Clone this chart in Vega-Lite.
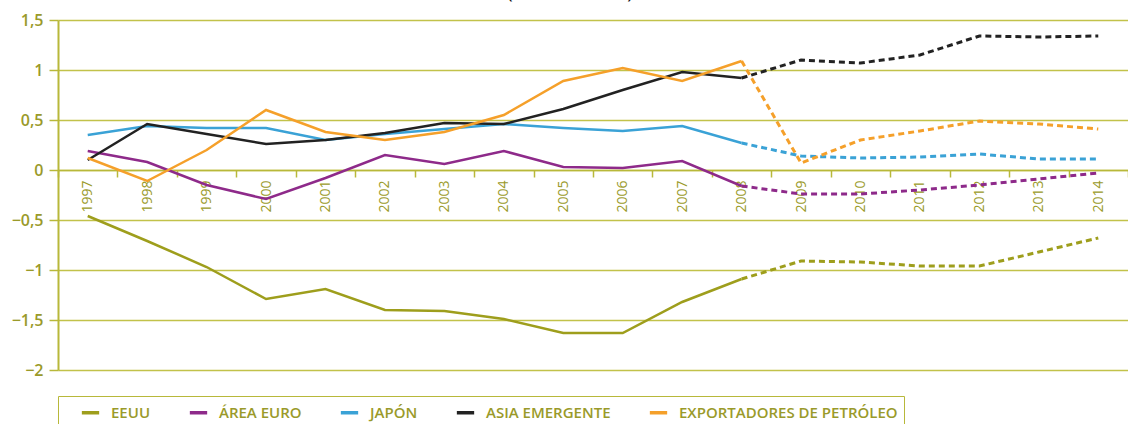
{
  "$schema": "https://vega.github.io/schema/vega-lite/v6.json",
  "width": 1070,
  "height": 350,
  "autosize": {"type": "none"},
  "padding": {"left": 58, "top": 20, "right": 0, "bottom": 54},
  "background": "white",
  "title": {"text": "(en % del PIB)", "fontSize": 20, "font": "Open Sans", "fontWeight": "normal", "color": "#111111", "anchor": "middle", "frame": "group", "baseline": "bottom", "dx": -23, "dy": 10, "offset": 0},
  "datasets": {
    "saldo": [
      {"year": 1997, "serie": "EEUU", "value": -0.46}, {"year": 1998, "serie": "EEUU", "value": -0.71}, {"year": 1999, "serie": "EEUU", "value": -0.97}, {"year": 2000, "serie": "EEUU", "value": -1.29}, {"year": 2001, "serie": "EEUU", "value": -1.19}, {"year": 2002, "serie": "EEUU", "value": -1.40}, {"year": 2003, "serie": "EEUU", "value": -1.41}, {"year": 2004, "serie": "EEUU", "value": -1.49}, {"year": 2005, "serie": "EEUU", "value": -1.63}, {"year": 2006, "serie": "EEUU", "value": -1.63}, {"year": 2007, "serie": "EEUU", "value": -1.32}, {"year": 2008, "serie": "EEUU", "value": -1.09}, {"year": 2009, "serie": "EEUU", "value": -0.91}, {"year": 2010, "serie": "EEUU", "value": -0.92}, {"year": 2011, "serie": "EEUU", "value": -0.96}, {"year": 2012, "serie": "EEUU", "value": -0.96}, {"year": 2013, "serie": "EEUU", "value": -0.82}, {"year": 2014, "serie": "EEUU", "value": -0.68},
      {"year": 1997, "serie": "ÁREA EURO", "value": 0.19}, {"year": 1998, "serie": "ÁREA EURO", "value": 0.08}, {"year": 1999, "serie": "ÁREA EURO", "value": -0.15}, {"year": 2000, "serie": "ÁREA EURO", "value": -0.29}, {"year": 2001, "serie": "ÁREA EURO", "value": -0.08}, {"year": 2002, "serie": "ÁREA EURO", "value": 0.15}, {"year": 2003, "serie": "ÁREA EURO", "value": 0.06}, {"year": 2004, "serie": "ÁREA EURO", "value": 0.19}, {"year": 2005, "serie": "ÁREA EURO", "value": 0.03}, {"year": 2006, "serie": "ÁREA EURO", "value": 0.02}, {"year": 2007, "serie": "ÁREA EURO", "value": 0.09}, {"year": 2008, "serie": "ÁREA EURO", "value": -0.16}, {"year": 2009, "serie": "ÁREA EURO", "value": -0.24}, {"year": 2010, "serie": "ÁREA EURO", "value": -0.24}, {"year": 2011, "serie": "ÁREA EURO", "value": -0.20}, {"year": 2012, "serie": "ÁREA EURO", "value": -0.15}, {"year": 2013, "serie": "ÁREA EURO", "value": -0.09}, {"year": 2014, "serie": "ÁREA EURO", "value": -0.03},
      {"year": 1997, "serie": "JAPÓN", "value": 0.35}, {"year": 1998, "serie": "JAPÓN", "value": 0.44}, {"year": 1999, "serie": "JAPÓN", "value": 0.42}, {"year": 2000, "serie": "JAPÓN", "value": 0.42}, {"year": 2001, "serie": "JAPÓN", "value": 0.30}, {"year": 2002, "serie": "JAPÓN", "value": 0.36}, {"year": 2003, "serie": "JAPÓN", "value": 0.41}, {"year": 2004, "serie": "JAPÓN", "value": 0.46}, {"year": 2005, "serie": "JAPÓN", "value": 0.42}, {"year": 2006, "serie": "JAPÓN", "value": 0.39}, {"year": 2007, "serie": "JAPÓN", "value": 0.44}, {"year": 2008, "serie": "JAPÓN", "value": 0.27}, {"year": 2009, "serie": "JAPÓN", "value": 0.14}, {"year": 2010, "serie": "JAPÓN", "value": 0.12}, {"year": 2011, "serie": "JAPÓN", "value": 0.13}, {"year": 2012, "serie": "JAPÓN", "value": 0.16}, {"year": 2013, "serie": "JAPÓN", "value": 0.11}, {"year": 2014, "serie": "JAPÓN", "value": 0.11},
      {"year": 1997, "serie": "ASIA EMERGENTE", "value": 0.10}, {"year": 1998, "serie": "ASIA EMERGENTE", "value": 0.46}, {"year": 1999, "serie": "ASIA EMERGENTE", "value": 0.36}, {"year": 2000, "serie": "ASIA EMERGENTE", "value": 0.26}, {"year": 2001, "serie": "ASIA EMERGENTE", "value": 0.30}, {"year": 2002, "serie": "ASIA EMERGENTE", "value": 0.37}, {"year": 2003, "serie": "ASIA EMERGENTE", "value": 0.47}, {"year": 2004, "serie": "ASIA EMERGENTE", "value": 0.46}, {"year": 2005, "serie": "ASIA EMERGENTE", "value": 0.61}, {"year": 2006, "serie": "ASIA EMERGENTE", "value": 0.80}, {"year": 2007, "serie": "ASIA EMERGENTE", "value": 0.98}, {"year": 2008, "serie": "ASIA EMERGENTE", "value": 0.92}, {"year": 2009, "serie": "ASIA EMERGENTE", "value": 1.10}, {"year": 2010, "serie": "ASIA EMERGENTE", "value": 1.07}, {"year": 2011, "serie": "ASIA EMERGENTE", "value": 1.15}, {"year": 2012, "serie": "ASIA EMERGENTE", "value": 1.34}, {"year": 2013, "serie": "ASIA EMERGENTE", "value": 1.33}, {"year": 2014, "serie": "ASIA EMERGENTE", "value": 1.34},
      {"year": 1997, "serie": "EXPORTADORES DE PETRÓLEO", "value": 0.12}, {"year": 1998, "serie": "EXPORTADORES DE PETRÓLEO", "value": -0.11}, {"year": 1999, "serie": "EXPORTADORES DE PETRÓLEO", "value": 0.20}, {"year": 2000, "serie": "EXPORTADORES DE PETRÓLEO", "value": 0.60}, {"year": 2001, "serie": "EXPORTADORES DE PETRÓLEO", "value": 0.38}, {"year": 2002, "serie": "EXPORTADORES DE PETRÓLEO", "value": 0.30}, {"year": 2003, "serie": "EXPORTADORES DE PETRÓLEO", "value": 0.38}, {"year": 2004, "serie": "EXPORTADORES DE PETRÓLEO", "value": 0.55}, {"year": 2005, "serie": "EXPORTADORES DE PETRÓLEO", "value": 0.89}, {"year": 2006, "serie": "EXPORTADORES DE PETRÓLEO", "value": 1.02}, {"year": 2007, "serie": "EXPORTADORES DE PETRÓLEO", "value": 0.89}, {"year": 2008, "serie": "EXPORTADORES DE PETRÓLEO", "value": 1.09}, {"year": 2009, "serie": "EXPORTADORES DE PETRÓLEO", "value": 0.07}, {"year": 2010, "serie": "EXPORTADORES DE PETRÓLEO", "value": 0.30}, {"year": 2011, "serie": "EXPORTADORES DE PETRÓLEO", "value": 0.39}, {"year": 2012, "serie": "EXPORTADORES DE PETRÓLEO", "value": 0.49}, {"year": 2013, "serie": "EXPORTADORES DE PETRÓLEO", "value": 0.46}, {"year": 2014, "serie": "EXPORTADORES DE PETRÓLEO", "value": 0.41}
    ]
  },
  "data": {"name": "saldo"},
  "config": {
    "view": {"stroke": null},
    "font": "Open Sans"
  },
  "encoding": {
    "x": {
      "field": "year", "type": "ordinal", "bandPosition": 0.5,
      "scale": {"type": "band", "paddingInner": 0, "paddingOuter": 0},
      "axis": {
        "title": null, "orient": "bottom", "offset": -200, "tickBand": "extent",
        "domain": true, "domainColor": "#b8b83a", "domainWidth": 1.5,
        "ticks": true, "tickColor": "#b8b83a", "tickSize": 7, "tickWidth": 1.5,
        "grid": false, "labelAngle": 270, "labelAlign": "right", "labelBaseline": "middle",
        "labelPadding": 3, "labelFontSize": 14, "labelColor": "#9a9a2a", "labelFont": "Open Sans"
      }
    },
    "y": {
      "field": "value", "type": "quantitative",
      "scale": {"domain": [-2, 1.5], "nice": false, "zero": false},
      "axis": {
        "title": null, "values": [-2, -1.5, -1, -0.5, 0, 0.5, 1, 1.5],
        "labelExpr": "replace(format(datum.value, '.1~f'), '.', ',')",
        "domain": true, "domainColor": "#b8b83a", "domainWidth": 2,
        "ticks": true, "tickColor": "#b8b83a", "tickSize": 9, "tickWidth": 1.5,
        "grid": true, "gridColor": "#c2c24a", "gridWidth": 1.5, "gridOpacity": 1,
        "labelFontSize": 16, "labelColor": "#9a9a2a", "labelPadding": 6, "labelFont": "Open Sans", "labelFontWeight": 600
      }
    },
    "color": {
      "field": "serie", "type": "nominal",
      "scale": {
        "domain": ["EEUU", "ÁREA EURO", "JAPÓN", "ASIA EMERGENTE", "EXPORTADORES DE PETRÓLEO"],
        "range": ["#9e9e1c", "#8e2a8a", "#3aa2d6", "#222222", "#f5a02a"]
      },
      "legend": {
        "title": null, "orient": "none", "legendX": 0, "legendY": 376, "direction": "horizontal",
        "strokeColor": "#b8b83a", "fillColor": "white", "padding": 6,
        "symbolType": "stroke", "symbolStrokeWidth": 3.5, "symbolSize": 300, "symbolOffset": 16,
        "labelFontSize": 15, "labelFontWeight": 600, "labelColor": "#9a9a2a", "labelFont": "Open Sans", "labelOffset": 10,
        "labelLimit": 400, "columnPadding": 21
      }
    }
  },
  "layer": [
    {
      "transform": [{"filter": "datum.year <= 2008"}],
      "mark": {"type": "line", "strokeWidth": 2.5}
    },
    {
      "transform": [{"filter": "datum.year >= 2008"}],
      "mark": {"type": "line", "strokeWidth": 3, "strokeDash": [6, 4]}
    }
  ]
}
